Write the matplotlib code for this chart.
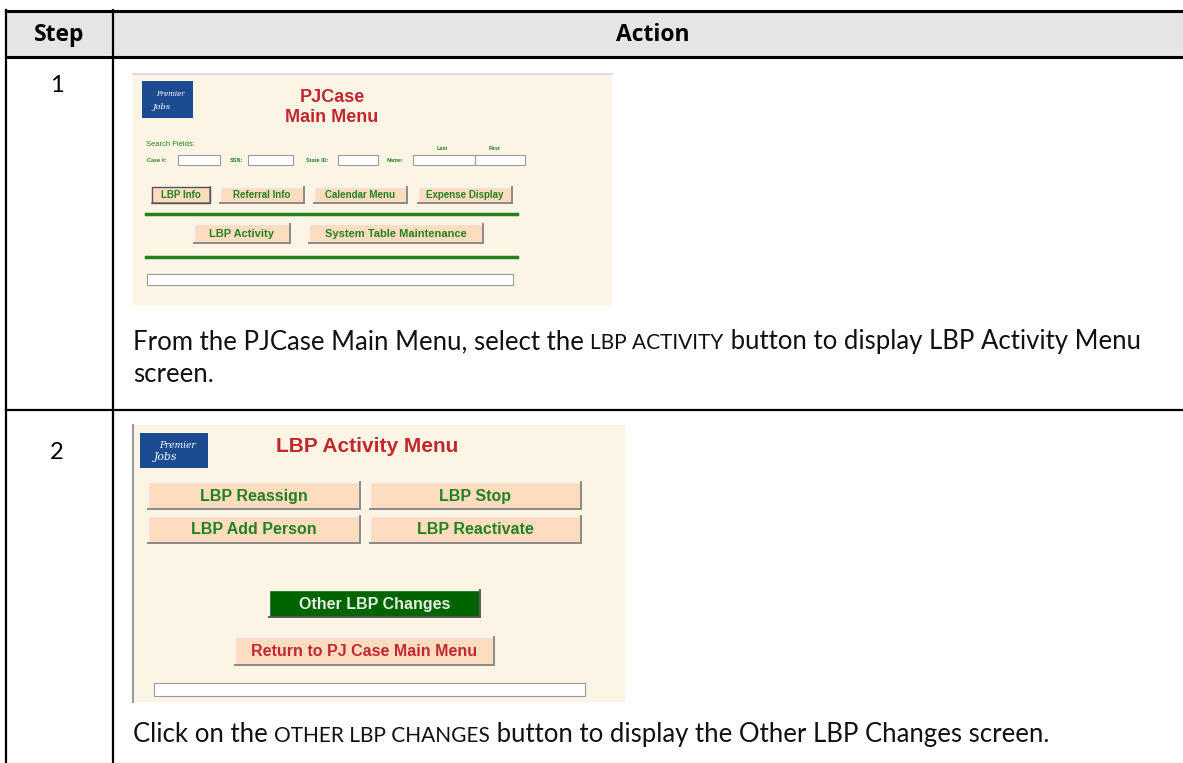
import matplotlib
matplotlib.use('Agg')
import matplotlib.pyplot as plt
from matplotlib.patches import Rectangle

# Figure size in pixels
WIDTH = 1183
HEIGHT = 763

# Table content
header = ['Step', 'Action']
steps = ['1', '2']
# each action line is a list of (text, is_small_caps) segments
action_lines = [
    [[('From the PJCase Main Menu, select the ', False), ('LBP ACTIVITY', True),
      (' button to display LBP Activity Menu', False)],
     [('screen.', False)]],
    [[('Click on the ', False), ('OTHER LBP CHANGES', True),
      (' button to display the Other LBP Changes screen.', False)]],
]

# Screen 1: PJCase main menu
menu_title = ['PJCase', 'Main Menu']
search_labels = ['Case #:', 'SSN:', 'State ID:', 'Name:']
name_labels = ['Last', 'First']
menu_buttons_top = ['LBP Info', 'Referral Info', 'Calendar Menu', 'Expense Display']
menu_buttons_bottom = ['LBP Activity', 'System Table Maintenance']

# Screen 2: LBP activity menu
activity_title = 'LBP Activity Menu'
activity_buttons = ['LBP Reassign', 'LBP Stop', 'LBP Add Person', 'LBP Reactivate']
other_button = 'Other LBP Changes'
return_button = 'Return to PJ Case Main Menu'

CREAM = '#fcf4e5'
PEACH = '#fddcbf'
GREEN = '#23801f'
DKGREEN = '#006400'
RED = '#c1272d'
BLUE = '#1d4b91'
BODY_FONT = 'Lato'
SCREEN_FONT = 'Liberation Sans'
BODY_SIZE = 18.5
SMALL_SIZE = 15

fig = plt.figure(figsize=(WIDTH / 100, HEIGHT / 100), dpi=100)
ax = fig.add_axes([0, 0, 1, 1])
ax.set_xlim(0, WIDTH)
ax.set_ylim(HEIGHT, 0)
ax.axis('off')
renderer = fig.canvas.get_renderer()


def button(x0, y0, x1, y1, label, size, fill=PEACH, color=GREEN, edge_dark='#8a8a8a'):
    ax.add_patch(Rectangle((x0, y0), x1 - x0, y1 - y0, facecolor=fill, edgecolor='none', zorder=2))
    ax.plot([x0, x1], [y0, y0], color='#f4f4f4', lw=1, zorder=3)
    ax.plot([x0, x0], [y0, y1], color='#f4f4f4', lw=1, zorder=3)
    ax.plot([x0, x1], [y1, y1], color=edge_dark, lw=1.4, zorder=3)
    ax.plot([x1, x1], [y0, y1], color=edge_dark, lw=1.4, zorder=3)
    ax.text((x0 + x1) / 2, (y0 + y1) / 2 + 0.5, label, ha='center', va='center',
            fontsize=size, fontweight='bold', color=color, family=SCREEN_FONT, zorder=4)


def input_box(x0, y0, x1, y1):
    ax.add_patch(Rectangle((x0, y0), x1 - x0, y1 - y0, facecolor='white',
                           edgecolor='#9a9a9a', lw=0.8, zorder=2))


def logo(x0, y0, x1, y1, size):
    ax.add_patch(Rectangle((x0, y0), x1 - x0, y1 - y0, facecolor=BLUE, edgecolor='none', zorder=2))
    ax.text(x0 + (x1 - x0) * 0.55, y0 + (y1 - y0) * 0.35, 'Premier', ha='center', va='center',
            fontsize=size, fontstyle='italic', color='white', family='DejaVu Serif', zorder=3)
    ax.text(x0 + (x1 - x0) * 0.38, y0 + (y1 - y0) * 0.7, 'Jobs', ha='center', va='center',
            fontsize=size * 1.2, fontstyle='italic', color='white', family='DejaVu Serif', zorder=3)


def rich_line(x, y, segments, size, small_size):
    for text, small in segments:
        t = ax.text(x, y, text, ha='left', va='baseline', family=BODY_FONT,
                    fontsize=small_size if small else size, color='#111111')
        bb = t.get_window_extent(renderer)
        x += bb.width


# ---- table frame ----
ax.add_patch(Rectangle((6, 10), WIDTH, 47, facecolor='#e5e5e5', edgecolor='none', zorder=0))
ax.plot([6, WIDTH], [10.5, 10.5], color='black', lw=2.2)
ax.plot([6, WIDTH], [56.5, 56.5], color='black', lw=2.2)
ax.plot([6, WIDTH], [410, 410], color='black', lw=1.6)
ax.plot([6.5, 6.5], [10, HEIGHT], color='black', lw=1.6)
ax.plot([113, 113], [10, HEIGHT], color='black', lw=1.6)

ax.text(59, 35, header[0], ha='center', va='center', fontsize=16.5, fontweight='bold', family='Open Sans')
ax.text(653, 35, header[1], ha='center', va='center', fontsize=16.5, fontweight='bold', family='Open Sans')

step_y = [92, 459]
for s, yy in zip(steps, step_y):
    ax.text(57, yy, s, ha='center', va='baseline', fontsize=17, family=BODY_FONT)

# ---- screen 1 ----
ax.add_patch(Rectangle((133, 73), 479, 232, facecolor=CREAM, edgecolor='none', zorder=1))
ax.plot([133, 612], [74, 74], color='#dedede', lw=1.5, zorder=2)
logo(142, 81, 193, 118, 5)
ax.text(332, 97, menu_title[0], ha='center', va='center', fontsize=13, fontweight='bold',
        color=RED, family=SCREEN_FONT, zorder=3)
ax.text(332, 117, menu_title[1], ha='center', va='center', fontsize=13, fontweight='bold',
        color=RED, family=SCREEN_FONT, zorder=3)
ax.text(146, 145, 'Search Fields:', ha='left', va='center', fontsize=5.5, color=GREEN,
        family=SCREEN_FONT, zorder=3)
label_x = [147, 230, 306, 387]
box_x = [(178, 220), (248, 293), (338, 378), (413, 475)]
for lab, lx, (b0, b1) in zip(search_labels, label_x, box_x):
    ax.text(lx, 160, lab, ha='left', va='center', fontsize=4, fontweight='bold', color=GREEN,
            family=SCREEN_FONT, zorder=3)
    input_box(b0, 155, b1, 165)
input_box(475, 155, 525, 165)
for lab, lx in zip(name_labels, [442, 495]):
    ax.text(lx, 148, lab, ha='center', va='center', fontsize=4, fontweight='bold', color=GREEN,
            family=SCREEN_FONT, zorder=3)

top_x = [(152, 210), (220, 304), (314, 407), (418, 512)]
for lab, (b0, b1) in zip(menu_buttons_top, top_x):
    button(b0, 187, b1, 203, lab, 7)
ax.add_patch(Rectangle((152, 187), 58, 16, facecolor='none', edgecolor='#555555', lw=1, zorder=3))
ax.plot([146, 517], [214, 214], color=GREEN, lw=2.5, zorder=2)
bot_x = [(194, 290), (309, 483)]
for lab, (b0, b1) in zip(menu_buttons_bottom, bot_x):
    button(b0, 224, b1, 243, lab, 8)
ax.plot([146, 517], [256.5, 256.5], color=GREEN, lw=2.5, zorder=2)
input_box(147, 274, 513, 285)

rich_line(133, 349, action_lines[0][0], BODY_SIZE, SMALL_SIZE)
rich_line(133, 382, action_lines[0][1], BODY_SIZE, SMALL_SIZE)

# ---- screen 2 ----
ax.add_patch(Rectangle((132, 425), 493, 277, facecolor=CREAM, edgecolor='none', zorder=1))
ax.plot([133, 133], [425, 702], color='#9a9a9a', lw=1.5, zorder=2)
logo(140, 433, 208, 468, 6.5)
ax.text(367, 447, activity_title, ha='center', va='center', fontsize=15, fontweight='bold',
        color=RED, family=SCREEN_FONT, zorder=3)
act_pos = [(148, 482, 360, 509), (370, 482, 581, 509), (148, 516, 360, 543), (370, 516, 581, 543)]
for lab, (x0, y0, x1, y1) in zip(activity_buttons, act_pos):
    button(x0, y0, x1, y1, lab, 11.5)
button(269, 590, 480, 617, other_button, 11.5, fill=DKGREEN, color='#e3efe0', edge_dark='#5a5a5a')
button(235, 637, 494, 665, return_button, 11.5, color=RED)
input_box(154, 683, 585, 696)

rich_line(133, 742, action_lines[1][0], BODY_SIZE, SMALL_SIZE)

fig.savefig('out.png', dpi=100)
